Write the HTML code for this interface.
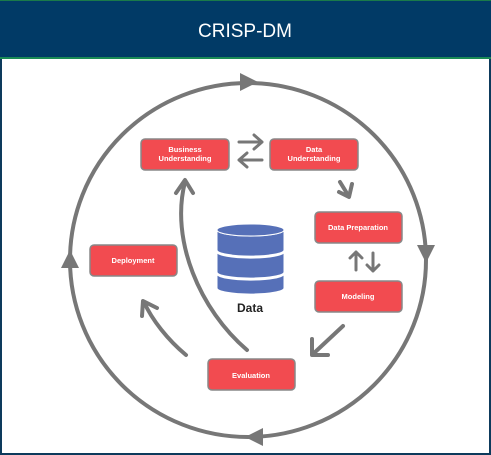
<!DOCTYPE html>
<html><head><style>
html,body{margin:0;padding:0;width:491px;height:455px;overflow:hidden;background:#fff}
</style></head><body>
<svg width="491" height="455" viewBox="0 0 491 455" xmlns="http://www.w3.org/2000/svg" font-family="Liberation Sans, sans-serif">
<rect x="0" y="0" width="491" height="455" fill="#fff"/>
<rect x="1" y="1" width="489" height="453" fill="none" stroke="#0d3a5c" stroke-width="2"/>
<rect x="0" y="0" width="491" height="58" fill="#013a66"/>
<rect x="0" y="0" width="491" height="1" fill="#1a7a4a"/>
<rect x="0" y="57" width="491" height="2" fill="#1a8a55"/>
<text x="245" y="37" text-anchor="middle" font-size="19" fill="#fff">CRISP-DM</text>
<g fill="none" stroke="#777" stroke-width="4" stroke-linecap="round" stroke-linejoin="round">
<ellipse cx="248" cy="260" rx="178" ry="177"/>
<path d="M247 350 C 200 310, 170 240, 185 182"/>
<path d="M176 193 L185 180 L193 193"/>
<path d="M186 355 C 168 340, 152 320, 144 302"/>
<path d="M142 316 L143 301 L157 308"/>
<path d="M343 326 L313 354"/>
<path d="M312 339 L312 355 L328 355"/>
<path d="M340 182 L348 195"/>
<path d="M339 192 L349 197 L352 184"/>
<path d="M239 142 L262 142 M254 135 L262 142 L254 149" stroke-width="3"/>
<path d="M262 160 L239 160 M247 153 L239 160 L247 167" stroke-width="3"/>
<path d="M356 270 L356 252 M350 258 L356 252 L362 258" stroke-width="3"/>
<path d="M373 253 L373 271 M367 265 L373 271 L379 265" stroke-width="3"/>
</g>
<g fill="#777">
<polygon points="240,73 258,82 240,91"/>
<polygon points="417,245 435,245 426,263"/>
<polygon points="263,428 263,446 245,437"/>
<polygon points="61,268 79,268 70,250"/>
</g>
<g stroke="#888" stroke-width="1.5" fill="#f24b50">
<rect x="141" y="139" width="88" height="31" rx="4"/>
<rect x="270" y="139" width="88" height="31" rx="4"/>
<rect x="315" y="212" width="87" height="31" rx="4"/>
<rect x="315" y="281" width="87" height="31" rx="4"/>
<rect x="208" y="359" width="87" height="31" rx="4"/>
<rect x="90" y="245" width="87" height="31" rx="4"/>
</g>
<g fill="#fff" font-size="7.5" font-weight="bold" text-anchor="middle">
<text x="185" y="152">Business</text><text x="185" y="161">Understanding</text>
<text x="314" y="152">Data</text><text x="314" y="161">Understanding</text>
<text x="358" y="230">Data Preparation</text>
<text x="358" y="299">Modeling</text>
<text x="251" y="378">Evaluation</text>
<text x="133" y="263">Deployment</text>
</g>
<g fill="#5670b8" stroke="#fff" stroke-width="1">
<path d="M217 274 v14 a33 6 0 0 0 67 0 v-14 a33 6 0 0 1 -67 0z"/>
<path d="M217 252 v20 a33 6 0 0 0 67 0 v-20 a33 6 0 0 1 -67 0z"/>
<path d="M217 230 v20 a33 6 0 0 0 67 0 v-20 a33 6 0 0 1 -67 0z"/>
<ellipse cx="250.5" cy="230" rx="33.5" ry="6"/>
</g>
<text x="250" y="312" text-anchor="middle" font-size="12" font-weight="bold" fill="#222">Data</text>
</svg>
</body></html>
